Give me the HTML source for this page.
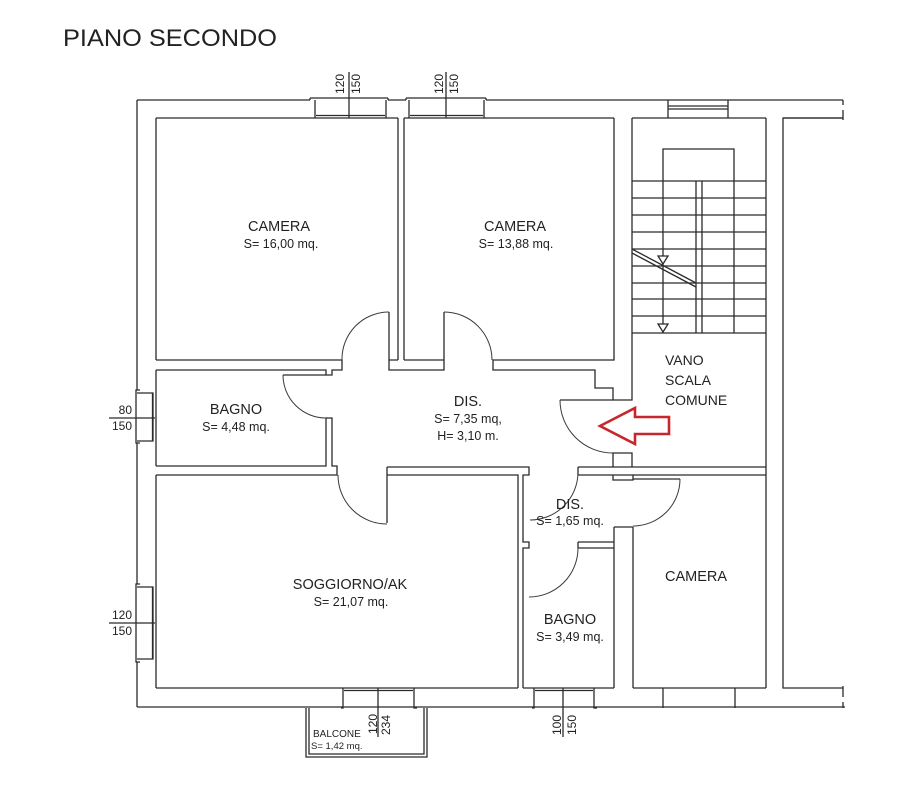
<!DOCTYPE html>
<html><head><meta charset="utf-8"><style>
html,body{margin:0;padding:0;background:#fff;}
svg{display:block;}
text{font-family:"Liberation Sans",Arial,sans-serif;fill:#222;}
</style></head><body>
<svg width="913" height="793" viewBox="0 0 913 793" xmlns="http://www.w3.org/2000/svg">
<rect width="913" height="793" fill="#fff"/>

<text x="63" y="46" font-size="24" textLength="214" lengthAdjust="spacingAndGlyphs">PIANO SECONDO</text>

<g fill="none" stroke="#2b2b2b" stroke-width="1.3">
  <!-- outer boundary -->
  <path d="M137,100 H310 M388,100 H406 M486,100 H843"/>
  <path d="M137,100 V390 M137,443 V584 M137,662 V707"/>
  <path d="M137,707 H845"/>
  <!-- right ticks -->
  <path d="M843,100 V105 M843,110 V120 M843,686 V697 M843,702 V708"/>

  <!-- left inner wall -->
  <path d="M156,118 V360 M156,370 V466 M156,475 V688"/>

  <!-- top inner lines -->
  <path d="M156,118 H398 M404,118 H614 M632,118 H766 M783,118 H843"/>

  <!-- camera1 / camera2 wall -->
  <path d="M398,118 V360 M404,118 V360"/>

  <!-- camera1 bottom / bagno top -->
  <path d="M156,360 H342 V370 H332 V375 H326 V370 H156"/>
  <!-- wall piece between camera doors -->
  <path d="M389,312 V370 H444 V312 M389,360 H398 M404,360 H444"/>

  <!-- camera2 bottom & step & stair left wall -->
  <path d="M614,118 V360 H493 V370 H595 V388 H613 V400 H632 V118"/>
  <!-- vano door leaf -->
  <path d="M613,400 H560"/>
  <!-- jamb blocks -->
  <path d="M613,467 V453 H632 V467 M613,475 V480 H633 V475"/>

  <!-- horizontal wall DIS/vano vs lower rooms -->
  <path d="M578,467 H766 M578,475 H766 M578,467 V475"/>

  <!-- soggiorno top / DIS2 left -->
  <path d="M387,467 H529 V475 H523 V542 H529 V548 H523 V688"/>
  <path d="M387,467 V523"/>
  <path d="M387,475 H518 V688"/>

  <!-- bagno1 right wall and bottom -->
  <path d="M156,466 H326 V418 H332 V466 H337 V475 H156"/>
  <!-- bagno1 door leaf -->
  <path d="M326,375 H283"/>

  <!-- DIS2 / bagno2 wall -->
  <path d="M578,542 H614 M578,548 H614 M578,542 V548"/>
  <!-- DIS2 right, bagno2 right, camera left -->
  <path d="M614,527 H633 M614,527 V688 M633,527 V688"/>
  <!-- lower camera door leaf -->
  <path d="M633,479 H680"/>

  <!-- stair right wall -->
  <path d="M766,118 V688"/>

  <!-- bottom inner lines -->
  <path d="M156,688 H518 M523,688 H614 M633,688 H766"/>

  <!-- neighbor room -->
  <path d="M843,118 H783 V688 H843"/>

  <!-- stairs -->
  <path d="M663,333 V149 H734 V333"/>
  <path d="M632,181 H766 M632,198 H766 M632,215 H766 M632,232 H766 M632,249 H766 M632,266 H766 M632,283 H766 M632,299 H766 M632,316 H766 M632,333 H766"/>
  <path d="M696,181 V333 M702,181 V333"/>
  <path d="M658,256 H668 L663,264 Z M658,324 H668 L663,332 Z" fill="#fff"/>
  <path d="M632,249 L696,283 M632,253 L696,287"/>

  <!-- stair window -->
  <path d="M668,100 V118 M728,100 V118 M668,106 H728 M668,109 H728"/>

  <!-- top window 1 -->
  <path d="M310,98 H388 M310,98 V100 M388,98 V100 M315,100 V118 M386,100 V118 M316,115.5 H385"/>
  <path d="M349,72 V118"/>
  <!-- top window 2 -->
  <path d="M406,98 H486 M406,98 V100 M486,98 V100 M409,100 V118 M484,100 V118 M410,115.5 H483"/>
  <path d="M446,72 V118"/>

  <!-- left window bagno -->
  <path d="M140,390 H136 V443 H140 M137,393 H153 V441 H137 M152.5,393 V441"/>
  <path d="M109,418 H155"/>
  <!-- left window soggiorno -->
  <path d="M140,584 H136 V662 H140 M137,587 H153 V659 H137 M152.5,587 V659"/>
  <path d="M109,623 H155"/>

  <!-- bottom window soggiorno -->
  <path d="M341,708 H343 V688 M417,708 H414 V688 M344,690.5 H413"/>
  <path d="M378,688 V737"/>
  <!-- bottom window bagno2 -->
  <path d="M532,708 H534 V688 M597,708 H594 V688 M535,690.5 H593"/>
  <path d="M563,688 V737"/>
  <!-- lower camera window -->
  <path d="M663,688 V708 M735,688 V708"/>

  <!-- balcony -->
  <path d="M306,708 V757 H427 V708 M309,708 V754 H424 V708"/>
</g>

<!-- door arcs -->
<g fill="none" stroke="#3a3a3a" stroke-width="1">
  <path d="M389,312 A47,47 0 0 0 342,360"/>
  <path d="M444,312 A48,48 0 0 1 492,360"/>
  <path d="M560,400 A53,53 0 0 0 613,453"/>
  <path d="M680,479 A47,47 0 0 1 633,526"/>
  <path d="M578,472 A48,48 0 0 1 530,520"/>
  <path d="M578,548 A49,49 0 0 1 529,597"/>
  <path d="M338,475 A49,49 0 0 0 387,524"/>
  <path d="M283,375 A43,43 0 0 0 326,418"/>
</g>

<!-- red arrow -->
<polygon points="600,426 635,408 635,417 669,417 669,434 635,434 635,444" fill="#fff" stroke="#c8262d" stroke-width="2.6" stroke-linejoin="miter"/>

<!-- room labels -->
<g text-anchor="middle">
  <text x="279" y="231" font-size="14.5">CAMERA</text>
  <text x="281" y="248" font-size="12.5">S= 16,00 mq.</text>
  <text x="515" y="231" font-size="14.5">CAMERA</text>
  <text x="516" y="248" font-size="12.5">S= 13,88 mq.</text>
  <text x="236" y="414" font-size="14.5">BAGNO</text>
  <text x="236" y="431" font-size="12.5">S= 4,48 mq.</text>
  <text x="468" y="406" font-size="14.5">DIS.</text>
  <text x="468" y="423" font-size="12.5">S= 7,35 mq,</text>
  <text x="468" y="440" font-size="12.5">H= 3,10 m.</text>
  <text x="350" y="589" font-size="14.5">SOGGIORNO/AK</text>
  <text x="351" y="606" font-size="12.5">S= 21,07 mq.</text>
  <text x="570" y="509" font-size="14.5">DIS.</text>
  <text x="570" y="525" font-size="12.5">S= 1,65 mq.</text>
  <text x="570" y="624" font-size="14.5">BAGNO</text>
  <text x="570" y="641" font-size="12.5">S= 3,49 mq.</text>
  <text x="696" y="581" font-size="14.5">CAMERA</text>
</g>
<text x="665" y="365" font-size="14">VANO</text>
<text x="665" y="385" font-size="14">SCALA</text>
<text x="665" y="405" font-size="14">COMUNE</text>

<text x="313" y="737" font-size="10">BALCONE</text>
<text x="311" y="749" font-size="9.5">S= 1,42 mq.</text>

<!-- left dimension labels -->
<g text-anchor="end" font-size="12">
  <text x="132" y="414">80</text>
  <text x="132" y="430">150</text>
  <text x="132" y="619">120</text>
  <text x="132" y="635">150</text>
</g>

<!-- rotated dimension labels -->
<g font-size="12">
  <text transform="translate(344,94) rotate(-90)">120</text>
  <text transform="translate(360,94) rotate(-90)">150</text>
  <text transform="translate(443,94) rotate(-90)">120</text>
  <text transform="translate(458,94) rotate(-90)">150</text>
  <text transform="translate(377,734) rotate(-90)">120</text>
  <text transform="translate(390,735) rotate(-90)">234</text>
  <text transform="translate(561,735) rotate(-90)">100</text>
  <text transform="translate(576,735) rotate(-90)">150</text>
</g>
</svg>
</body></html>
